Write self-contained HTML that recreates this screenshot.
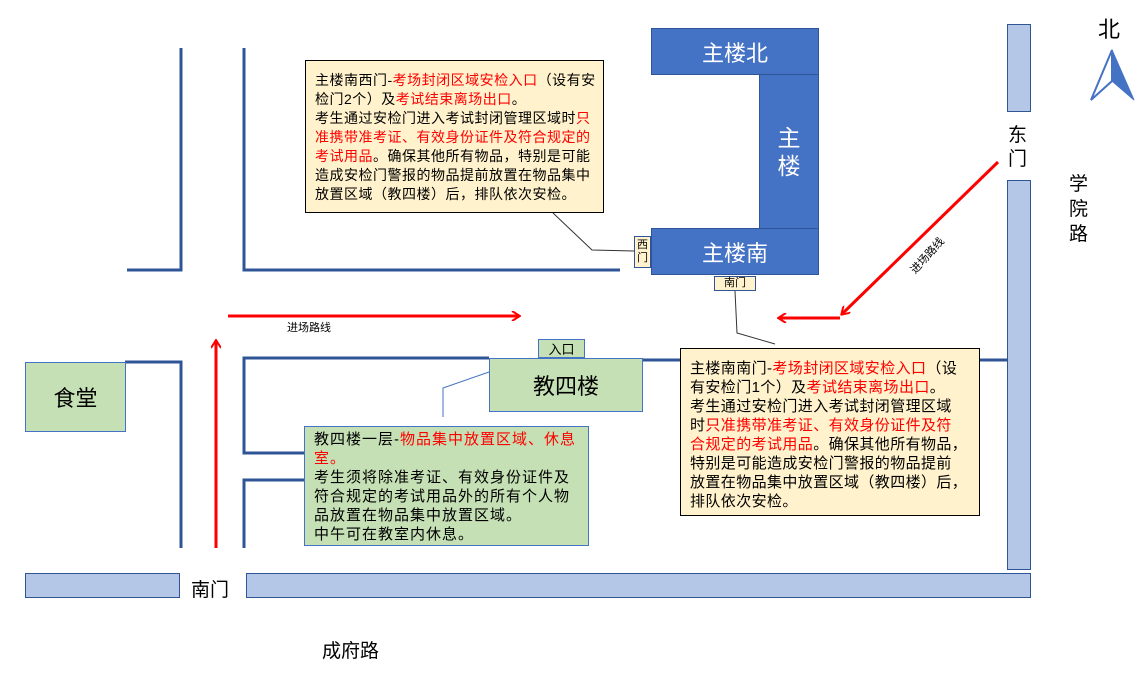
<!DOCTYPE html>
<html><head><meta charset="utf-8"><style>
body{margin:0;width:1144px;height:678px;background:#fff;position:relative;overflow:hidden;font-family:"Liberation Sans","Noto Sans CJK SC",sans-serif;}
.a{position:absolute;box-sizing:border-box;}
.blue{background:#4472C4;color:#fff;border:1px solid #2F5597;display:flex;align-items:center;justify-content:center;}
.road{background:#B4C7E7;border:1px solid #2F5597;}
.note{font-size:14px;line-height:19px;color:#000;padding:10px 0 0 9px;white-space:nowrap;overflow:hidden;}
.r{color:#f00;}
.tag{font-size:11px;border:1px solid #2F5597;background:#FFF2CC;text-align:center;line-height:13px;}
.g{background:#C5E0B4;border:1px solid #4472C4;display:flex;align-items:center;justify-content:center;color:#000;}
</style></head><body>
<svg class="a" style="left:0;top:0" width="1144" height="678">
<defs>
<marker id="ar" markerWidth="10" markerHeight="10" refX="8" refY="5" orient="auto" markerUnits="userSpaceOnUse"><path d="M1,0 L9,5 L1,10" fill="none" stroke="#f00" stroke-width="2"/></marker>
</defs>
<g stroke="#2F5597" stroke-width="3" fill="none">
<polyline points="181,48 181,270 127,270"/>
<polyline points="244,48 244,270 620,270"/>
<polyline points="125,362 181,362 181,548"/>
<polyline points="244,548 244,480 304,480"/>
<polyline points="304,453 244,453 244,358 489,358"/>
<line x1="642" y1="360" x2="680" y2="360"/>
<line x1="979" y1="360" x2="1007" y2="360"/>
</g>
<g stroke="#333" stroke-width="1" fill="none">
<polyline points="553,213 592,250 634,251"/>
<polyline points="735,291 737,333 775,344"/>
</g>
<polyline points="443,417 443,388 489,372" stroke="#4472C4" stroke-width="1" fill="none"/>
<g stroke="#f00" stroke-width="3" fill="none">
<line x1="228" y1="316" x2="519" y2="316" marker-end="url(#ar)"/>
<line x1="216" y1="548" x2="216" y2="341" marker-end="url(#ar)"/>
<line x1="998" y1="162" x2="842" y2="314" marker-end="url(#ar)"/>
<line x1="840" y1="318" x2="779" y2="318" marker-end="url(#ar)"/>
</g>
<polygon points="1112,50 1091,100 1112,81" fill="#fff" stroke="#4472C4" stroke-width="2"/>
<polygon points="1112,50 1134,100 1112,81" fill="#4472C4" stroke="#4472C4" stroke-width="1"/>
<text x="930" y="258" font-size="11" transform="rotate(-48 930 258)" text-anchor="middle" font-family="Liberation Sans,Noto Sans CJK SC,sans-serif">进场路线</text>
</svg>
<div class="a road" style="left:25px;top:573px;width:155px;height:25px"></div>
<div class="a road" style="left:246px;top:573px;width:785px;height:25px"></div>
<div class="a road" style="left:1007px;top:24px;width:24px;height:88px"></div>
<div class="a road" style="left:1007px;top:180px;width:24px;height:390px"></div>
<div class="a blue" style="left:759px;top:74px;width:60px;height:156px;font-size:23px;line-height:28px;text-align:center">主<br>楼</div>
<div class="a blue" style="left:651px;top:28px;width:168px;height:47px;font-size:22px">主楼北</div>
<div class="a blue" style="left:651px;top:228px;width:168px;height:47px;font-size:22px">主楼南</div>
<div class="a tag" style="left:634px;top:236px;width:17px;height:32px;padding-top:2px">西<br>门</div>
<div class="a tag" style="left:714px;top:276px;width:42px;height:15px">南门</div>
<div class="a note" style="left:305px;top:60px;width:299px;height:153px;background:#FFF2CC;border:1px solid #000;letter-spacing:0.5px">主楼南西门-<span class="r">考场封闭区域安检入口</span>（设有安<br>检门2个）及<span class="r">考试结束离场出口</span>。<br>考生通过安检门进入考试封闭管理区域时<span class="r">只</span><br><span class="r">准携带准考证、有效身份证件及符合规定的</span><br><span class="r">考试用品</span>。确保其他所有物品，特别是可能<br>造成安检门警报的物品提前放置在物品集中<br>放置区域（教四楼）后，排队依次安检。</div>
<div class="a note" style="left:680px;top:348px;width:300px;height:168px;background:#FFF2CC;border:1px solid #000;font-size:15px;letter-spacing:0.4px">主楼南南门-<span class="r">考场封闭区域安检入口</span>（设<br>有安检门1个）及<span class="r">考试结束离场出口</span>。<br>考生通过安检门进入考试封闭管理区域<br>时<span class="r">只准携带准考证、有效身份证件及符</span><br><span class="r">合规定的考试用品</span>。确保其他所有物品，<br>特别是可能造成安检门警报的物品提前<br>放置在物品集中放置区域（教四楼）后，<br>排队依次安检。</div>
<div class="a note" style="left:304px;top:426px;width:285px;height:120px;background:#C5E0B4;border:1px solid #4472C4;padding-top:3px;font-size:15px;letter-spacing:1px">教四楼一层-<span class="r">物品集中放置区域、休息</span><br><span class="r">室。</span><br>考生须将除准考证、有效身份证件及<br>符合规定的考试用品外的所有个人物<br>品放置在物品集中放置区域。<br>中午可在教室内休息。</div>
<div class="a g" style="left:489px;top:358px;width:154px;height:54px;font-size:22px">教四楼</div>
<div class="a g" style="left:538px;top:339px;width:47px;height:19px;font-size:13px">入口</div>
<div class="a g" style="left:25px;top:362px;width:101px;height:70px;font-size:22px">食堂</div>
<div class="a" style="left:287px;top:319px;font-size:11px">进场路线</div>
<div class="a" style="left:1098px;top:12px;font-size:22px">北</div>
<div class="a" style="left:1008px;top:124px;font-size:19px;line-height:24px">东<br>门</div>
<div class="a" style="left:1069px;top:172px;font-size:19px;line-height:25px">学<br>院<br>路</div>
<div class="a" style="left:191px;top:575px;font-size:19px">南门</div>
<div class="a" style="left:322px;top:636px;font-size:19px">成府路</div>
</body></html>
